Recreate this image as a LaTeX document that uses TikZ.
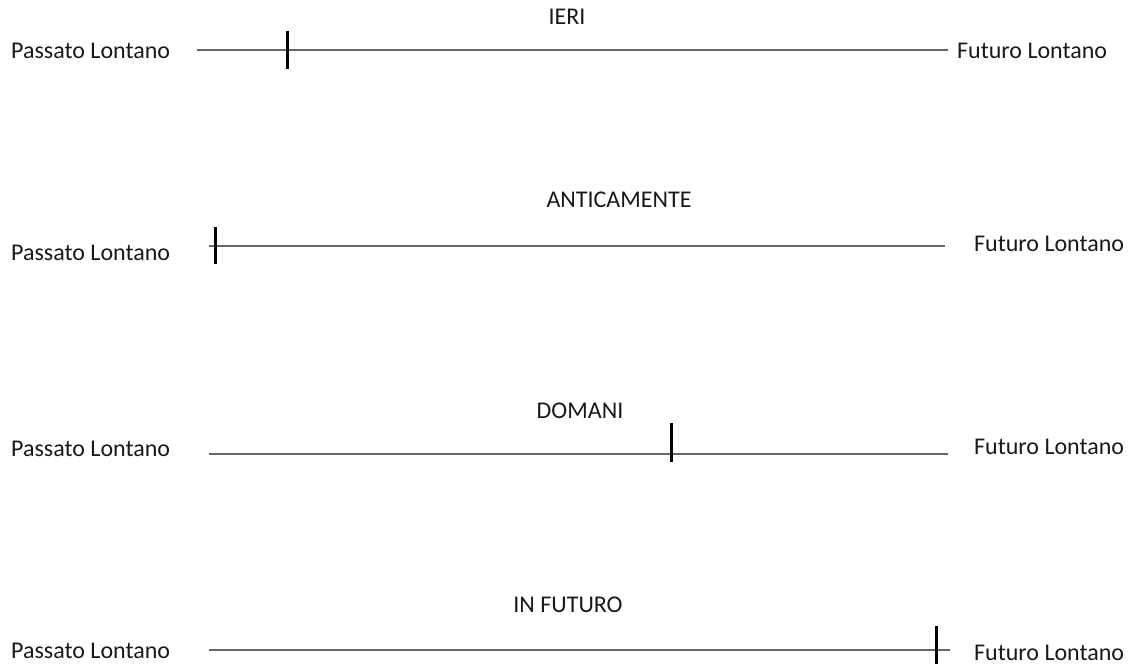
\documentclass[tikz,border=0pt]{standalone}
\usepackage{fontspec}
\setmainfont{Carlito}
\begin{document}
\begin{tikzpicture}[x=1pt,y=-1pt,
  lbl/.style={font=\fontsize{24}{27}\selectfont, text=black!90, inner sep=0pt},
  tline/.style={draw=black!60, line width=2.2pt},
  tick/.style={draw=black, line width=3pt}]
\useasboundingbox (0,0) rectangle (1133,666);
% Row 1
\node[lbl, anchor=west] (p1) at (11,51) {Passato Lontano};
\node[lbl, anchor=west] (f1) at (957,51) {Futuro Lontano};
\node[lbl] (t1) at (567,17) {IERI};
\coordinate (a1) at (197,50); \coordinate (b1) at (948,50);
\draw[tline] (a1) -- (b1);
\coordinate (k1a) at (287,31); \coordinate (k1b) at (287,69);
\draw[tick] (k1a) -- (k1b);
% Row 2
\node[lbl, anchor=west] (p2) at (11,253) {Passato Lontano};
\node[lbl, anchor=west] (f2) at (974,244) {Futuro Lontano};
\node[lbl] (t2) at (619,200) {ANTICAMENTE};
\coordinate (a2) at (209,246); \coordinate (b2) at (945,246);
\draw[tline] (a2) -- (b2);
\coordinate (k2a) at (215,227); \coordinate (k2b) at (215,264);
\draw[tick] (k2a) -- (k2b);
% Row 3
\node[lbl, anchor=west] (p3) at (11,449) {Passato Lontano};
\node[lbl, anchor=west] (f3) at (974,447) {Futuro Lontano};
\node[lbl] (t3) at (580,411) {DOMANI};
\coordinate (a3) at (209,454); \coordinate (b3) at (948,454);
\draw[tline] (a3) -- (b3);
\coordinate (k3a) at (671,423); \coordinate (k3b) at (671,462);
\draw[tick] (k3a) -- (k3b);
% Row 4
\node[lbl, anchor=west] (p4) at (11,651) {Passato Lontano};
\node[lbl, anchor=west] (f4) at (974,653) {Futuro Lontano};
\node[lbl] (t4) at (568,605) {IN FUTURO};
\coordinate (a4) at (209,650); \coordinate (b4) at (950,650);
\draw[tline] (a4) -- (b4);
\coordinate (k4a) at (936,626); \coordinate (k4b) at (936,664);
\draw[tick] (k4a) -- (k4b);
\end{tikzpicture}
\end{document}
